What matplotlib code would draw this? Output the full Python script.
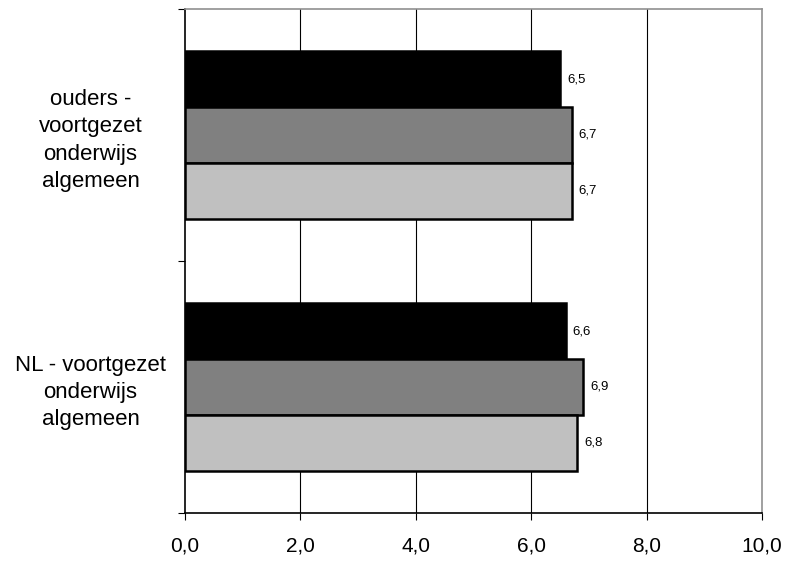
import matplotlib

matplotlib.use("Agg")
import matplotlib.pyplot as plt  # noqa: E402
import numpy as np  # noqa: E402

plt.rcParams["font.family"] = ["Liberation Sans", "DejaVu Sans"]

categories = [
    "ouders -\nvoortgezet\nonderwijs\nalgemeen",
    "NL - voortgezet\nonderwijs\nalgemeen",
]
series_black = [6.5, 6.6]
series_gray = [6.7, 6.9]
series_light = [6.7, 6.8]
xticks = [0, 2, 4, 6, 8, 10]
xtick_labels = ["0,0", "2,0", "4,0", "6,0", "8,0", "10,0"]

fig = plt.figure(figsize=(7.88, 5.62), dpi=100)
ax = fig.add_axes([0.2348, 0.0872, 0.967 - 0.2348, 0.984 - 0.0872])

centers = np.arange(len(categories)) + 0.5
h = 0.222
series = [(series_black, "#000000", -h), (series_gray, "#808080", 0), (series_light, "#c0c0c0", h)]

for vals, color, off in series:
    ax.barh(centers + off, vals, height=h, color=color, edgecolor="black", linewidth=1.8, zorder=3)
    for c, v in zip(centers, vals):
        ax.text(v + 0.12, c + off, f"{v:.1f}".replace(".", ","), fontsize=9.5, va="center", ha="left")

ax.set_xlim(0, 10)
ax.set_ylim(2, 0)
ax.set_xticks(xticks)
ax.set_xticklabels(xtick_labels, fontsize=15)
ax.set_yticks([0, 1, 2])
ax.set_yticklabels([])
ax.set_yticks(centers, minor=True)
ax.set_yticklabels(categories, minor=True, fontsize=16, ha="center", linespacing=1.38)
ax.tick_params(axis="y", which="minor", length=0, pad=68)
ax.tick_params(axis="y", which="major", length=5, direction="out")
ax.tick_params(axis="x", length=5, direction="out", pad=12)

for x in xticks[1:-1]:
    ax.axvline(x, color="black", linewidth=0.8, zorder=1)

ax.spines["top"].set_color("#909090")
ax.spines["right"].set_color("#909090")
ax.spines["left"].set_color("black")
ax.spines["bottom"].set_color("black")
for s in ax.spines.values():
    s.set_linewidth(1.2)

fig.savefig("out.png", dpi=100, facecolor="white")
